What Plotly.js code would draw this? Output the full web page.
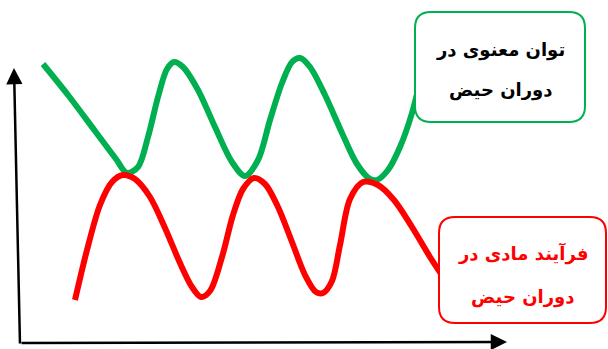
<!DOCTYPE html>
<html>
<head>
<meta charset="utf-8">
<script src="https://cdn.plot.ly/plotly-3.0.1.min.js"></script>
<style>html,body{margin:0;padding:0;background:#fff;}#chart{width:608px;height:349px;}</style>
</head>
<body>
<div id="chart"></div>
<script>
// Green curve: "توان معنوی در دوران حیض"
const greenX = [23,48,75,96,107,118,128,138,147,154,163,178,195,212,225,238,250,262,272,280,290,305,322,337,350,357,368,380,392,405];
const greenY = [281,250,214,186,172,178,208,248,276,283,278,255,218,183,169,185,225,262,283,287,278,250,212,181,166,165,175,198,232,285];
// Red curve: "فرآیند مادی در دوران حیض"
const redX = [55,67,80,92,103,115,130,145,160,172,181,190,202,213,223,234,245,258,272,285,296,303,312,320,330,343,358,374,392,410,425];
const redY = [45,95,140,163,170,166,148,117,82,58,48,54,88,130,156,167,161,138,103,70,53,52,64,100,146,163,160,145,118,88,65];

const greenLabel = ["توان معنوی در", "دوران حیض"];
const redLabel = ["فرآیند مادی در", "دوران حیض"];

const GREEN = "#00B050", RED = "#FF0000";

function roundRect(x0, y0, x1, y1, r) {
  return `M${x0+r},${y0} L${x1-r},${y0} Q${x1},${y0} ${x1},${y0+r} L${x1},${y1-r} Q${x1},${y1} ${x1-r},${y1} ` +
         `L${x0+r},${y1} Q${x0},${y1} ${x0},${y1-r} L${x0},${y0+r} Q${x0},${y0} ${x0+r},${y0} Z`;
}

const traces = [
  {x: greenX, y: greenY, mode: "lines", line: {color: GREEN, width: 6, shape: "spline", smoothing: 0.9}, hoverinfo: "skip"},
  {x: redX, y: redY, mode: "lines", line: {color: RED, width: 6, shape: "spline", smoothing: 0.9}, hoverinfo: "skip"}
];

const gBox = {x0: 395, x1: 565, y0: 223, y1: 333};
const rBox = {x0: 419, x1: 586, y0: 22, y1: 128};

const font = {family: "DejaVu Sans", size: 18};

const layout = {
  width: 608, height: 349,
  margin: {l: 0, r: 0, t: 0, b: 0},
  paper_bgcolor: "#fff", plot_bgcolor: "#fff",
  showlegend: false,
  xaxis: {range: [-20, 588], visible: false, fixedrange: true},
  yaxis: {range: [-4, 345], visible: false, fixedrange: true},
  shapes: [
    {type: "path", xref: "x", yref: "y", path: roundRect(gBox.x0, gBox.y0, gBox.x1, gBox.y1, 16),
     fillcolor: "#fff", line: {color: GREEN, width: 2}, layer: "above"},
    {type: "path", xref: "x", yref: "y", path: roundRect(rBox.x0, rBox.y0, rBox.x1, rBox.y1, 16),
     fillcolor: "#fff", line: {color: RED, width: 2}, layer: "above"}
  ],
  annotations: [
    {x: 487, y: 3, ax: 0, ay: 2, xref: "x", yref: "y", axref: "x", ayref: "y", text: "",
     showarrow: true, arrowhead: 2, arrowsize: 1.3, arrowwidth: 2.5, arrowcolor: "#000", standoff: 0},
    {x: -6, y: 277, ax: 0, ay: 0, xref: "x", yref: "y", axref: "x", ayref: "y", text: "",
     showarrow: true, arrowhead: 2, arrowsize: 1.3, arrowwidth: 2.5, arrowcolor: "#000", standoff: 0},
    {x: (gBox.x0 + gBox.x1) / 2, y: 295, xref: "x", yref: "y", text: "<b>" + greenLabel[0] + "</b>", showarrow: false, font: Object.assign({color: "#000"}, font)},
    {x: (gBox.x0 + gBox.x1) / 2, y: 255, xref: "x", yref: "y", text: "<b>" + greenLabel[1] + "</b>", showarrow: false, font: Object.assign({color: "#000"}, font)},
    {x: (rBox.x0 + rBox.x1) / 2, y: 92, xref: "x", yref: "y", text: "<b>" + redLabel[0] + "</b>", showarrow: false, font: Object.assign({color: RED}, font)},
    {x: (rBox.x0 + rBox.x1) / 2, y: 48, xref: "x", yref: "y", text: "<b>" + redLabel[1] + "</b>", showarrow: false, font: Object.assign({color: RED}, font)}
  ]
};

Plotly.newPlot("chart", traces, layout, {staticPlot: true, displayModeBar: false});
</script>
</body>
</html>
